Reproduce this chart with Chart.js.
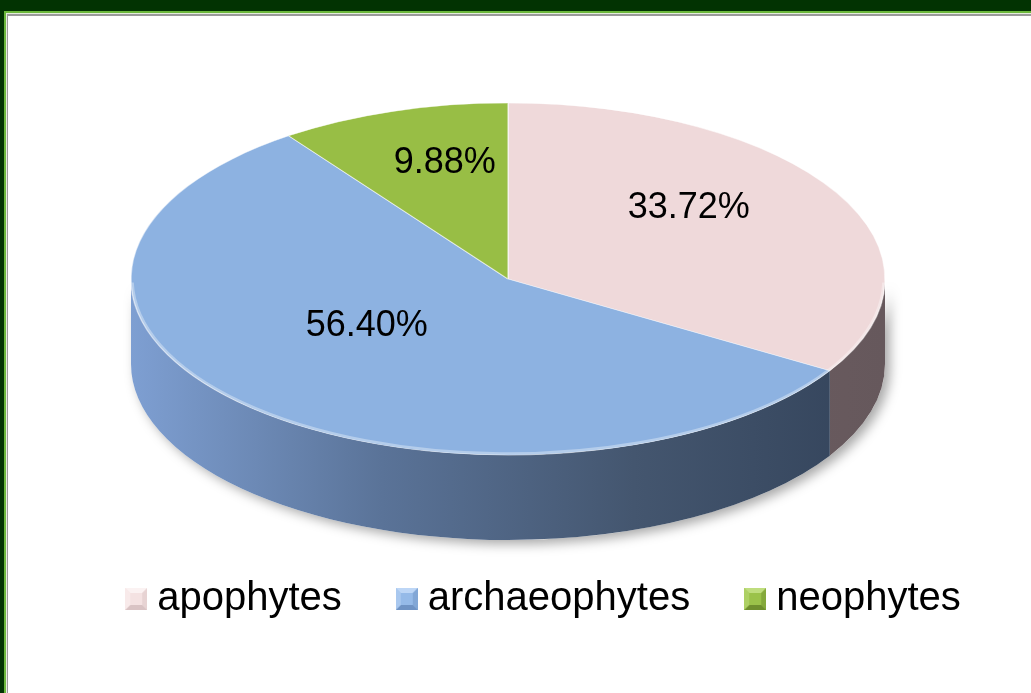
<!DOCTYPE html>
<html><head><meta charset="utf-8">
<script src="https://cdn.jsdelivr.net/npm/chart.js@4.4.1/dist/chart.umd.min.js"></script>
<style>
html,body{margin:0;padding:0;width:1031px;height:693px;overflow:hidden;background:#023302;}
#frame{position:absolute;left:4px;top:11px;width:1040px;height:700px;border-top:2px solid #6cb83c;border-left:2px solid #6cb83c;background:#e4ecdc;}
#panel{position:absolute;left:1px;top:1px;right:0;bottom:0;border-top:2px solid #9a9a9a;border-left:1px solid #9a9a9a;background:#fff;}
#c{position:absolute;left:0;top:0;}
</style></head><body>
<div id="frame"><div id="panel"></div></div>
<canvas id="c" width="1031" height="693"></canvas>
<script>
const categories = ['apophytes', 'archaeophytes', 'neophytes'];
const shares = [33.72, 56.40, 9.88];
const topColors = ['#EFD9DA', '#8DB2E1', '#98BE45'];
const sideColors = [
  ['#7A6A6E', '#66585C'],
  ['#7E9FD2', '#5A7398', '#44566F', '#33435A'],
  ['#6E8A33', '#55702A']
];
const markerColors = [
  ['#F4E2E2', '#FBF2F2', '#D9C3C4'],
  ['#95BAE8', '#BDD6F6', '#6F93C4'],
  ['#9BC24A', '#BFDD7E', '#6F8F2E']
];

const G = {cx: 508, cy: 279, rx: 377, ry: 176, depth: 85, labelR: 0.55, labelDy: -24};

function makeMarker(c) {
  const cv = document.createElement('canvas');
  cv.width = 22; cv.height = 22;
  const x = cv.getContext('2d');
  x.fillStyle = c[0]; x.fillRect(0, 0, 22, 22);
  x.fillStyle = c[1];
  x.beginPath(); x.moveTo(0, 0); x.lineTo(22, 0); x.lineTo(17, 5); x.lineTo(5, 5); x.closePath(); x.fill();
  x.fillStyle = c[2];
  x.beginPath(); x.moveTo(0, 22); x.lineTo(22, 22); x.lineTo(17, 17); x.lineTo(5, 17); x.closePath(); x.fill();
  x.globalAlpha = 0.5;
  x.beginPath(); x.moveTo(22, 0); x.lineTo(22, 22); x.lineTo(17, 17); x.lineTo(17, 5); x.closePath(); x.fill();
  x.fillStyle = c[1];
  x.beginPath(); x.moveTo(0, 0); x.lineTo(0, 22); x.lineTo(5, 17); x.lineTo(5, 5); x.closePath(); x.fill();
  return cv;
}
const markers = markerColors.map(makeMarker);

function arcAngles(arc) {
  return arc.getProps(['startAngle', 'endAngle', 'x', 'y', 'outerRadius'], true);
}

const pie3d = {
  id: 'pie3d',
  beforeDatasetsDraw(chart) {
    const ctx = chart.ctx;
    const arcs = chart.getDatasetMeta(0).data;
    // shadow of whole side
    ctx.save();
    ctx.beginPath();
    ctx.ellipse(G.cx, G.cy, G.rx, G.ry, 0, 0, Math.PI, false);
    ctx.ellipse(G.cx, G.cy + G.depth, G.rx, G.ry, 0, Math.PI, 0, true);
    ctx.closePath();
    ctx.fillStyle = '#fff';
    ctx.shadowColor = 'rgba(0,0,0,0.35)';
    ctx.shadowBlur = 12; ctx.shadowOffsetX = 5; ctx.shadowOffsetY = 4;
    ctx.fill();
    ctx.restore();
    // side pieces
    arcs.forEach((arc, i) => {
      const p = arcAngles(arc);
      for (const k of [-2 * Math.PI, 0, 2 * Math.PI]) {
        const lo = Math.max(p.startAngle, k), hi = Math.min(p.endAngle, k + Math.PI);
        if (hi <= lo) continue;
        ctx.save();
        ctx.beginPath();
        ctx.ellipse(G.cx, G.cy, G.rx, G.ry, 0, lo, hi, false);
        ctx.ellipse(G.cx, G.cy + G.depth, G.rx, G.ry, 0, hi, lo, true);
        ctx.closePath();
        const g = ctx.createLinearGradient(G.cx - G.rx, 0, G.cx + G.rx, 0);
        const st = sideColors[i];
        st.forEach((c, j) => g.addColorStop(j / (st.length - 1), c));
        ctx.fillStyle = g;
        ctx.fill();
        ctx.restore();
      }
    });
    const p0 = arcAngles(arcs[0]);
    ctx.save();
    ctx.translate(G.cx, G.cy);
    ctx.scale(G.rx / p0.outerRadius, G.ry / p0.outerRadius);
    ctx.translate(-p0.x, -p0.y);
  },
  afterDatasetsDraw(chart) {
    const ctx = chart.ctx;
    ctx.restore();
    const arcs = chart.getDatasetMeta(0).data;
    // front rim highlight
    ctx.save();
    ctx.beginPath();
    ctx.ellipse(G.cx, G.cy, G.rx - 1.5, G.ry - 1.5, 0, 0.02, Math.PI - 0.02, false);
    ctx.strokeStyle = 'rgba(255,255,255,0.35)';
    ctx.lineWidth = 2.5;
    ctx.stroke();
    ctx.restore();
    // labels
    ctx.save();
    ctx.font = '36px "Liberation Sans", Arial, sans-serif';
    ctx.fillStyle = '#000';
    ctx.textAlign = 'center';
    ctx.textBaseline = 'middle';
    arcs.forEach((arc, i) => {
      const p = arcAngles(arc);
      const m = (p.startAngle + p.endAngle) / 2;
      const lx = G.cx + G.rx * G.labelR * Math.cos(m);
      const ly = G.cy + G.labelDy + G.ry * G.labelR * Math.sin(m);
      ctx.fillText(shares[i].toFixed(2) + '%', lx, ly);
    });
    ctx.restore();
  }
};

new Chart(document.getElementById('c'), {
  type: 'pie',
  data: {
    labels: categories,
    datasets: [{
      data: shares,
      backgroundColor: topColors,
      borderColor: 'rgba(255,255,255,0.55)',
      borderWidth: 1,
      clip: false
    }]
  },
  options: {
    responsive: false,
    animation: false,
    events: [],
    layout: {padding: {left: 65, bottom: 64, top: 0, right: 0}},
    plugins: {
      tooltip: {enabled: false},
      legend: {
        position: 'bottom',
        labels: {
          usePointStyle: true,
          boxWidth: 2,
          padding: 64,
          color: '#000',
          font: {family: '"Liberation Sans", Arial, sans-serif', size: 40},
          generateLabels() {
            return categories.map((c, i) => ({
              text: c, fillStyle: topColors[i], strokeStyle: 'rgba(0,0,0,0)', lineWidth: 0,
              pointStyle: markers[i], hidden: false, index: i, datasetIndex: 0
            }));
          }
        }
      }
    }
  },
  plugins: [pie3d]
});
</script>
</body></html>
